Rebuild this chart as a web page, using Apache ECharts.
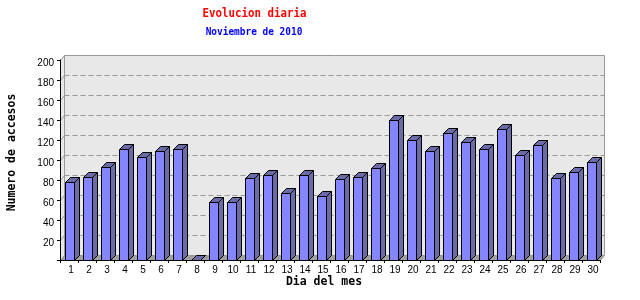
<!DOCTYPE html>
<html><head><meta charset="utf-8">
<script src="https://cdn.jsdelivr.net/npm/echarts@6/dist/echarts.min.js"></script>
<style>html,body{margin:0;padding:0;background:#fff}#c{width:640px;height:300px}</style>
</head><body><div id="c"></div>
<script>
const days = ['1','2','3','4','5','6','7','8','9','10','11','12','13','14','15','16','17','18','19','20','21','22','23','24','25','26','27','28','29','30'];
const accesos = [78,83,93,111,103,109,111,0,58,58,82,85,67,85,64,81,83,92,140,120,109,127,118,111,131,105,115,82,88,98];
const yTicks = [20,40,60,80,100,120,140,160,180,200];
const titleText = 'Evolucion diaria';
const subtitleText = 'Noviembre de 2010';
const yName = 'Numero de accesos';
const xName = 'Dia del mes';

const D = 5;      // bar depth
const WD = 4;     // wall depth x
const WDY = 5;    // wall depth y
const chart = echarts.init(document.getElementById('c'), null, {renderer:'canvas'});
const mono = 'DejaVu Sans Mono';
chart.setOption({
  animation:false,
  grid:{left:60, right:40, top:60, bottom:40},
  xAxis:{type:'category', data:days, z:10,
    axisLine:{lineStyle:{color:'#000', width:1}},
    axisTick:{show:true, length:3, lineStyle:{color:'#000'}},
    axisLabel:{interval:0, margin:5, color:'#000', fontFamily:'Liberation Sans', fontSize:10,
      formatter:v=>'{a|'+v+'}',
      rich:{a:{padding:[0,0,0,4], color:'#000', fontFamily:'Liberation Sans', fontSize:10}}}
  },
  yAxis:{type:'value', min:0, max:200, interval:20, z:10,
    axisLine:{show:true, lineStyle:{color:'#000'}},
    axisTick:{show:true, length:3, lineStyle:{color:'#000'}},
    splitLine:{show:false},
    axisLabel:{margin:6, color:'#000', fontFamily:'Liberation Sans', fontSize:10,
      formatter:v=> v===0?'':'{a|'+v+'}',
      rich:{a:{padding:[6,0,0,0], color:'#000', fontFamily:'Liberation Sans', fontSize:10}}}
  },
  graphic:[
    {type:'text', x:254.5, y:14, scaleX:0.83, style:{text:titleText, fill:'#ff0000', font:'bold 13px "'+mono+'"', textAlign:'center', textVerticalAlign:'middle'}},
    {type:'text', x:254, y:32, scaleX:0.9, style:{text:subtitleText, fill:'#0000ff', font:'bold 10.5px "'+mono+'"', textAlign:'center', textVerticalAlign:'middle'}},
    {type:'text', x:12.5, y:152.5, rotation:Math.PI/2, style:{text:yName, fill:'#000', font:'bold 11.5px "'+mono+'"', textAlign:'center', textVerticalAlign:'middle'}},
    {type:'text', x:324, y:282, style:{text:xName, fill:'#000', font:'bold 11.5px "'+mono+'"', textAlign:'center', textVerticalAlign:'middle'}}
  ],
  series:[
    {type:'custom', z:1, silent:true, data:[[0]],
      renderItem:function(params, api){
        const cs = params.coordSys;
        const L = cs.x+0.5, R = cs.x+cs.width+0.5, T = cs.y+0.5, B = cs.y+cs.height+0.5;
        const ch = [];
        ch.push({type:'rect', shape:{x:L+WD, y:T-WDY, width:R-L, height:B-T},
          style:{fill:'#e8e8e8', stroke:'#999', lineWidth:1}});
        ch.push({type:'polygon', shape:{points:[[L,T],[L+WD,T-WDY],[L+WD,B-WDY],[L,B]]},
          style:{fill:'#e8e8e8', stroke:'#999', lineWidth:1}});
        yTicks.forEach(t=>{
          if (t>=200) return;
          const y = Math.round(api.coord([0,t])[1]) - WDY + 0.5;
          ch.push({type:'line', shape:{x1:L+WD, y1:y, x2:R+WD, y2:y},
            style:{stroke:'#999', lineWidth:1, lineDash:[5,3]}});
          ch.push({type:'line', shape:{x1:L, y1:y+WDY, x2:L+WD, y2:y},
            style:{stroke:'#999', lineWidth:1}});
        });
        ch.push({type:'polygon', shape:{points:[[L,B],[L+WD,B-WDY],[R+WD,B-WDY],[R,B]]},
          style:{fill:'#a0a0a0', stroke:'#999', lineWidth:1}});
        return {type:'group', children:ch};
      }
    },
    {type:'custom', z:5, data:accesos.map((v,i)=>[i,v]),
      renderItem:function(params, api){
        const i = api.value(0), v = api.value(1);
        const top = api.coord([i, v]);
        const base = api.coord([i, 0]);
        const c = top[0];
        const x0 = Math.round(c-4.5)+0.5, x1 = x0+9;
        const yt = Math.round(top[1])+0.5, yb = Math.round(base[1])+0.5;
        const ch = [];
        ch.push({type:'polygon', shape:{points:[[x1,yt],[x1+D,yt-D],[x1+D,yb-D],[x1,yb]]},
          style:{fill:'#6b6ba8', stroke:'#000', lineWidth:1}});
        ch.push({type:'polygon', shape:{points:[[x0,yt],[x0+D,yt-D],[x1+D,yt-D],[x1,yt]]},
          style:{fill:'#6b6ba8', stroke:'#000', lineWidth:1}});
        if (yb>yt) ch.push({type:'rect', shape:{x:x0, y:yt, width:9, height:yb-yt},
          style:{fill:'#8585ff', stroke:'#000', lineWidth:1}});
        return {type:'group', children:ch};
      }
    }
  ]
});
</script></body></html>
